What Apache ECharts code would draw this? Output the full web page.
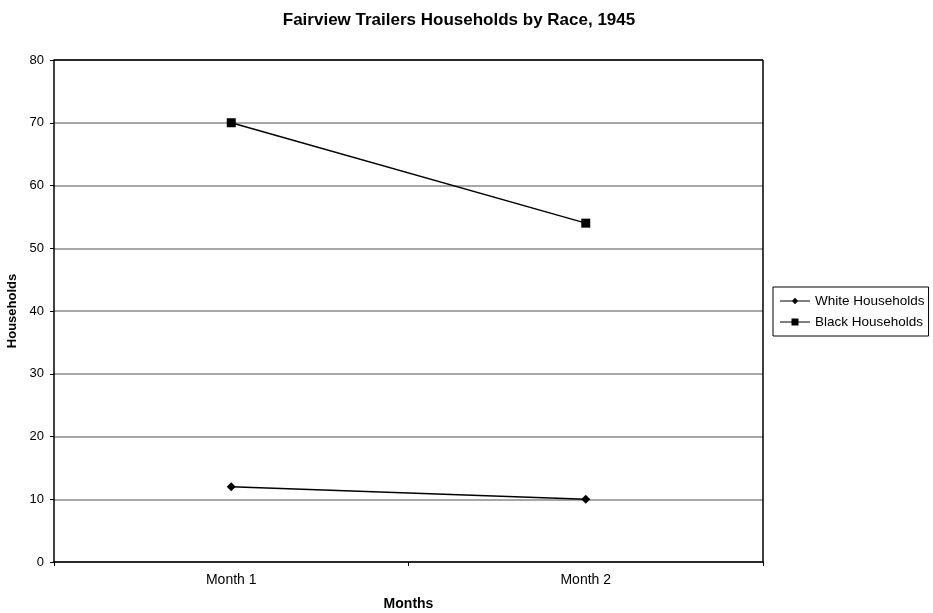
<!DOCTYPE html>
<html>
<head>
<meta charset="utf-8">
<script src="https://cdn.jsdelivr.net/npm/echarts@6/dist/echarts.min.js"></script>
<style>
  html, body { margin: 0; padding: 0; background: #fff; }
  #chart { width: 933px; height: 613px; }
</style>
</head>
<body>
<div id="chart"></div>
<script>
const months = ["Month 1", "Month 2"];
const whiteHouseholds = [12, 10];
const blackHouseholds = [70, 54];

const chart = echarts.init(document.getElementById("chart"));
const font = "Liberation Sans, Arial, sans-serif";

chart.setOption({
  animation: false,
  backgroundColor: "#fff",
  title: {
    text: "Fairview Trailers Households by Race, 1945",
    left: 454,
    textAlign: "center",
    top: 7,
    textStyle: { fontFamily: font, fontSize: 17, fontWeight: "bold", color: "#000" },
  },
  legend: {
    orient: "vertical",
    left: 773,
    top: 287,
    itemWidth: 30,
    itemHeight: 11,
    itemGap: 7,
    padding: [7, 4, 7, 7],
    borderColor: "#000",
    borderWidth: 1,
    textStyle: { fontFamily: font, fontSize: 13.5, color: "#000" },
    data: [
      { name: "White Households", icon: "path://M0,4.6L30,4.6L30,5.4L0,5.4Z M15,1.8L18.2,5L15,8.2L11.8,5Z" },
      { name: "Black Households", icon: "path://M0,4.6L30,4.6L30,5.4L0,5.4Z M11.5,1.5L18.5,1.5L18.5,8.5L11.5,8.5Z" },
    ],
  },
  grid: { left: 54, right: 170, top: 60, bottom: 51, outerBoundsMode: "none" },
  xAxis: {
    type: "category",
    data: months,
    boundaryGap: true,
    name: "Months",
    nameLocation: "middle",
    nameGap: 35,
    nameTextStyle: { fontFamily: font, fontSize: 14, fontWeight: "bold", color: "#000" },
    axisLine: { lineStyle: { color: "#000", width: 1.5 } },
    axisTick: { show: true, length: 4, lineStyle: { color: "#000" } },
    axisLabel: { fontFamily: font, fontSize: 14, color: "#000", margin: 11 },
  },
  yAxis: {
    type: "value",
    min: 0,
    max: 80,
    interval: 10,
    name: "Households",
    nameLocation: "middle",
    nameGap: 31,
    nameRotate: 90,
    nameTextStyle: { fontFamily: font, fontSize: 13, fontWeight: "bold", color: "#000" },
    axisLine: { show: true, lineStyle: { color: "#000", width: 1.5 } },
    axisTick: { show: true, length: 4, lineStyle: { color: "#000" } },
    axisLabel: { fontFamily: font, fontSize: 13, color: "#000", margin: 10 },
    splitLine: { show: true, lineStyle: { color: "#8a8a8a", width: 1.5 } },
  },
  series: [
    {
      name: "White Households",
      type: "line",
      data: whiteHouseholds,
      symbol: "diamond",
      symbolSize: 9,
      lineStyle: { color: "#000", width: 1.5 },
      itemStyle: { color: "#000" },
    },
    {
      name: "Black Households",
      type: "line",
      data: blackHouseholds,
      symbol: "rect",
      symbolSize: 9,
      lineStyle: { color: "#000", width: 1.5 },
      itemStyle: { color: "#000" },
    },
    {
      // top and right border of plot area
      type: "line",
      data: [],
      markLine: {
        silent: true,
        symbol: "none",
        label: { show: false },
        lineStyle: { color: "#000", width: 1.5, type: "solid" },
        data: [[{ x: 763, y: 60 }, { x: 763, y: 562 }], [{ x: 54, y: 60 }, { x: 763, y: 60 }]],
      },
    },
  ],
});
</script>
</body>
</html>
